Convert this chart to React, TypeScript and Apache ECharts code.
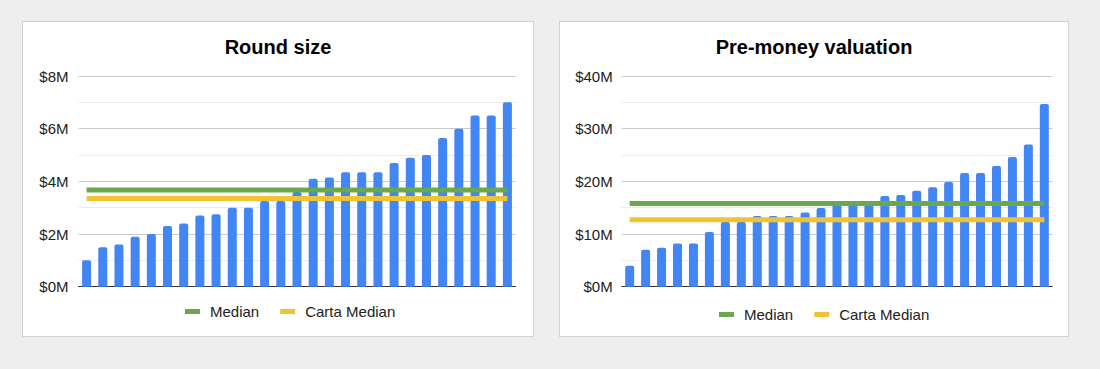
import React, { useEffect, useRef } from "react";
import * as echarts from "echarts";

const FONT = 'Arial, "Liberation Sans", Helvetica, sans-serif';

const categories = [
  "1", "2", "3", "4", "5", "6", "7", "8", "9", "10", "11", "12", "13", "14",
  "15", "16", "17", "18", "19", "20", "21", "22", "23", "24", "25", "26", "27",
];

// Round size, $M
const roundSize = [
  1.0, 1.5, 1.6, 1.9, 2.0, 2.3, 2.4, 2.7, 2.75, 3.0, 3.0, 3.25, 3.25, 3.6,
  4.1, 4.15, 4.35, 4.35, 4.35, 4.7, 4.9, 5.0, 5.65, 6.0, 6.5, 6.5, 7.0,
];
const roundMedian = 3.67;
const roundCartaMedian = 3.35;

// Pre-money valuation, $M
const preMoney = [
  4.0, 7.0, 7.4, 8.2, 8.2, 10.4, 12.3, 12.3, 13.4, 13.4, 13.4, 14.1, 14.95,
  15.8, 16.1, 16.1, 17.2, 17.4, 18.2, 18.9, 19.9, 21.6, 21.6, 22.9, 24.6, 27.0,
  34.7,
];
const preMoneyMedian = 15.8;
const preMoneyCartaMedian = 12.7;

const roundTicks = { max: 8, interval: 2 };
const preMoneyTicks = { max: 40, interval: 10 };

type Cfg = {
  title: string;
  values: number[];
  median: number;
  carta: number;
  max: number;
  interval: number;
  gridLeft: number;
  gridRight: number;
  labelMargin: number;
  legendLeft: number;
  legendTop: number;
};

function buildOption(c: Cfg) {
  return {
    animation: false,
    title: {
      text: c.title,
      left: "center",
      top: 15,
      padding: 0,
      textStyle: { fontFamily: FONT, fontSize: 20, fontWeight: "bold", color: "#000" },
    },
    legend: {
      data: ["Median", "Carta Median"],
      left: c.legendLeft,
      top: c.legendTop,
      padding: 0,
      icon: "rect",
      itemWidth: 15,
      itemHeight: 5,
      itemGap: 21,
      selectedMode: false,
      textStyle: { fontFamily: FONT, fontSize: 15, color: "#222", padding: [0, 0, 0, 5] },
    },
    grid: { left: c.gridLeft, right: c.gridRight, top: 54, bottom: 49.3, containLabel: false },
    xAxis: {
      type: "category",
      data: categories,
      axisLine: { lineStyle: { color: "#333", width: 1 } },
      axisTick: { show: false },
      axisLabel: { show: false },
      splitLine: { show: false },
    },
    yAxis: {
      type: "value",
      min: 0,
      max: c.max,
      interval: c.interval,
      axisLine: { show: false },
      axisTick: { show: false },
      axisLabel: {
        formatter: (v: number) => `$${v}M`,
        fontFamily: FONT,
        fontSize: 15,
        color: "#222",
        margin: c.labelMargin,
      },
      splitLine: { lineStyle: { color: "#cacaca", width: 1 } },
      minorTick: { show: false, splitNumber: 2 },
      minorSplitLine: { show: true, lineStyle: { color: "#ebebeb", width: 1 } },
    },
    series: [
      {
        name: c.title,
        type: "bar",
        data: c.values,
        barWidth: 9,
        itemStyle: { color: "#4285f4", borderRadius: [2, 2, 0, 0] },
      },
      {
        name: "Median",
        type: "line",
        data: categories.map(() => c.median),
        symbol: "none",
        z: 3,
        lineStyle: { width: 5, color: "#6aa84f" },
        itemStyle: { color: "#6aa84f" },
      },
      {
        name: "Carta Median",
        type: "line",
        data: categories.map(() => c.carta),
        symbol: "none",
        z: 3,
        lineStyle: { width: 5, color: "#f1c232" },
        itemStyle: { color: "#f1c232" },
      },
    ],
  };
}

function Panel(props: { left: number; width: number; cfg: Cfg }) {
  const ref = useRef<HTMLDivElement>(null);
  useEffect(() => {
    if (!ref.current) return;
    const chart = echarts.init(ref.current, undefined, { renderer: "svg" });
    chart.setOption(buildOption(props.cfg));
    return () => chart.dispose();
  }, []);
  return (
    <div
      style={{
        position: "absolute",
        left: props.left,
        top: 21,
        width: props.width,
        height: 314,
        border: "1px solid #d2d2d2",
        background: "#fff",
      }}
    >
      <div ref={ref} style={{ width: props.width, height: 314 }} />
    </div>
  );
}

export default function App() {
  return (
    <div
      style={{
        position: "fixed",
        left: 0,
        top: 0,
        width: 1100,
        height: 369,
        background: "#eeeeee",
        overflow: "hidden",
      }}
    >
      <Panel
        left={22}
        width={510}
        cfg={{
          title: "Round size",
          values: roundSize,
          median: roundMedian,
          carta: roundCartaMedian,
          max: roundTicks.max,
          interval: roundTicks.interval,
          gridLeft: 55.5,
          gridRight: 17.5,
          labelMargin: 10,
          legendLeft: 162,
          legendTop: 282,
        }}
      />
      <Panel
        left={559}
        width={508}
        cfg={{
          title: "Pre-money valuation",
          values: preMoney,
          median: preMoneyMedian,
          carta: preMoneyCartaMedian,
          max: preMoneyTicks.max,
          interval: preMoneyTicks.interval,
          gridLeft: 61.7,
          gridRight: 15.7,
          labelMargin: 9,
          legendLeft: 159,
          legendTop: 285,
        }}
      />
    </div>
  );
}
